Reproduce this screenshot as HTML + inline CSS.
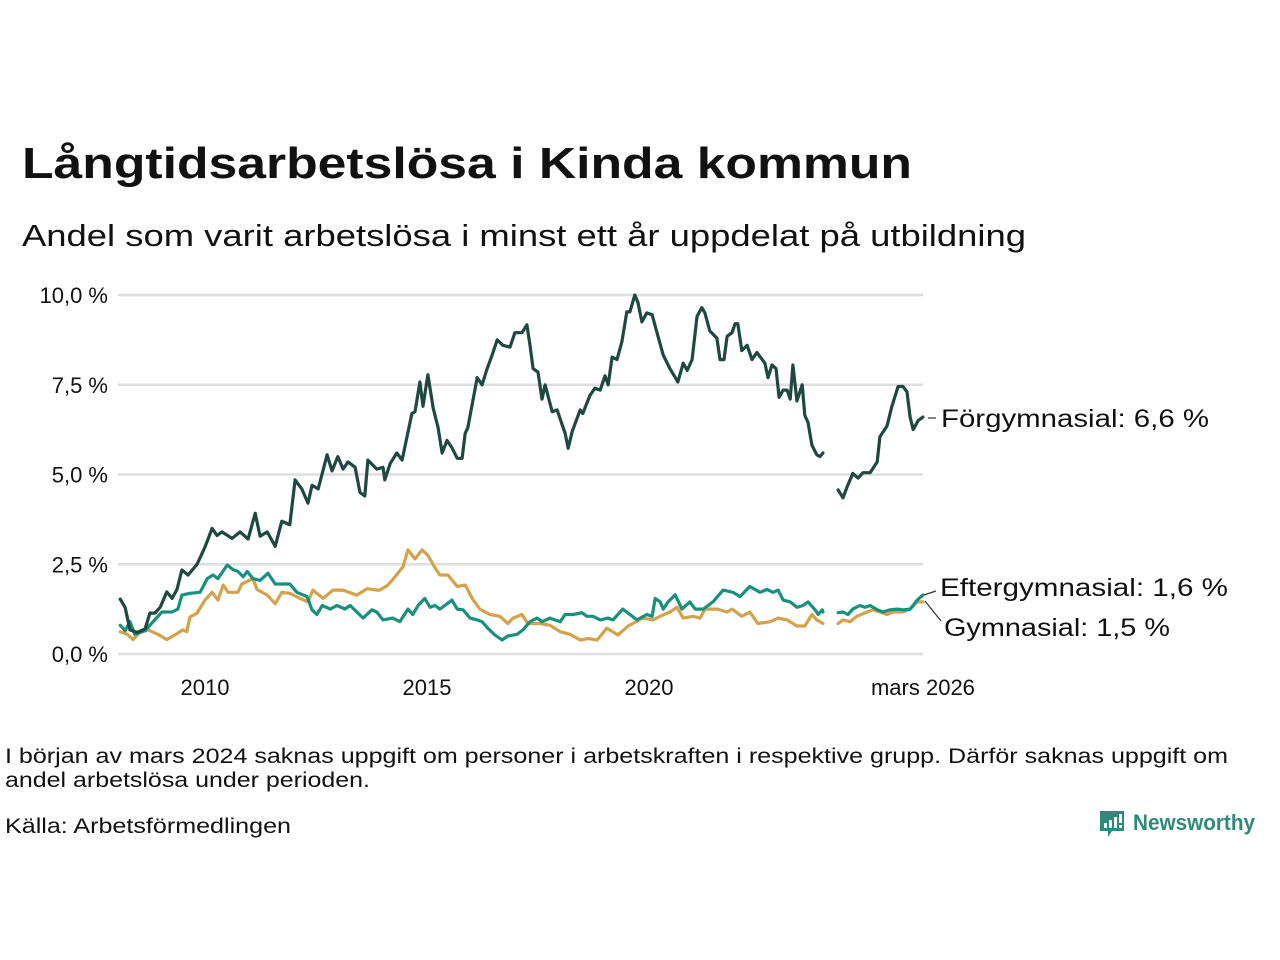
<!DOCTYPE html>
<html><head><meta charset="utf-8"><style>
html,body{margin:0;padding:0;background:#fff;width:1280px;height:960px;overflow:hidden}
svg{display:block;font-family:"Liberation Sans",sans-serif}
</style></head><body>
<svg id="chart" width="1280" height="960" viewBox="0 0 1280 960">
<text x="22" y="178" font-size="44" font-weight="bold" fill="#111" textLength="890" lengthAdjust="spacingAndGlyphs">Långtidsarbetslösa i Kinda kommun</text>
<text x="22" y="246" font-size="31" fill="#111" textLength="1004" lengthAdjust="spacingAndGlyphs">Andel som varit arbetslösa i minst ett år uppdelat på utbildning</text>
<g id="grid"></g>
<g id="yticks"></g>
<g id="xticks"></g>
<g id="lines"></g>
<line x1="928" y1="418" x2="936" y2="418" stroke="#333" stroke-width="1.2"/>
<text x="941" y="427" font-size="25" fill="#111" textLength="268" lengthAdjust="spacingAndGlyphs">Förgymnasial: 6,6 %</text>
<line x1="924" y1="595" x2="936" y2="591" stroke="#333" stroke-width="1.2"/>
<text x="940" y="596" font-size="25" fill="#111" textLength="288" lengthAdjust="spacingAndGlyphs">Eftergymnasial: 1,6 %</text>
<line x1="925" y1="601" x2="941" y2="621" stroke="#333" stroke-width="1.2"/>
<text x="944" y="636" font-size="25" fill="#111" textLength="226" lengthAdjust="spacingAndGlyphs">Gymnasial: 1,5 %</text>
<text x="5" y="763" font-size="21" fill="#111" textLength="1223" lengthAdjust="spacingAndGlyphs">I början av mars 2024 saknas uppgift om personer i arbetskraften i respektive grupp. Därför saknas uppgift om</text>
<text x="5" y="787" font-size="21" fill="#111" textLength="365" lengthAdjust="spacingAndGlyphs">andel arbetslösa under perioden.</text>
<text x="5" y="833" font-size="21" fill="#111" textLength="286" lengthAdjust="spacingAndGlyphs">Källa: Arbetsförmedlingen</text>
<g>
<path d="M1100 811 h24 v20 h-12 l-4 6 v-6 h-8 z" fill="#2e8a7a"/>
<rect x="1104" y="823" width="3" height="5" fill="#fff"/><rect x="1109" y="820" width="3" height="8" fill="#fff"/><rect x="1114" y="817" width="3" height="11" fill="#fff"/><rect x="1119" y="814" width="3" height="9" fill="#fff"/><rect x="1119" y="825" width="3" height="3" fill="#fff"/>
<text x="1133" y="830" font-size="22" font-weight="bold" fill="#2e8a7a" textLength="122" lengthAdjust="spacingAndGlyphs">Newsworthy</text>
</g>
</svg>
<script>
const yTicks=[0,2.5,5,7.5,10];
const yTickLabels=["0,0 %","2,5 %","5,0 %","7,5 %","10,0 %"];
const xTicks=[2010,2015,2020,2026.17];
const xTickLabels=["2010","2015","2020","mars 2026"];
const seriesNames=["Förgymnasial","Eftergymnasial","Gymnasial"];
const forgYears=[2008.09,2008.2,2008.31,2008.47,2008.65,2008.76,2008.87,2008.99,2009.14,2009.26,2009.37,2009.48,2009.62,2009.82,2010.0,2010.16,2010.27,2010.38,2010.61,2010.79,2010.97,2011.13,2011.24,2011.4,2011.58,2011.73,2011.91,2012.03,2012.18,2012.32,2012.41,2012.55,2012.75,2012.86,2012.99,2013.11,2013.22,2013.38,2013.49,2013.6,2013.67,2013.87,2014.01,2014.05,2014.17,2014.32,2014.44,2014.55,2014.66,2014.73,2014.84,2014.91,2015.02,2015.14,2015.25,2015.34,2015.45,2015.56,2015.68,2015.79,2015.86,2015.92,2016.13,2016.24,2016.35,2016.46,2016.58,2016.71,2016.87,2016.98,2017.14,2017.25,2017.32,2017.39,2017.5,2017.59,2017.66,2017.82,2017.93,2018.04,2018.11,2018.18,2018.27,2018.33,2018.45,2018.51,2018.67,2018.78,2018.9,2019.01,2019.08,2019.17,2019.28,2019.39,2019.5,2019.57,2019.68,2019.75,2019.84,2019.95,2020.07,2020.18,2020.32,2020.47,2020.65,2020.77,2020.86,2020.97,2021.08,2021.19,2021.26,2021.37,2021.53,2021.6,2021.69,2021.76,2021.87,2021.94,2022.0,2022.09,2022.21,2022.32,2022.43,2022.55,2022.61,2022.68,2022.77,2022.86,2022.93,2023.02,2023.11,2023.18,2023.24,2023.33,2023.45,2023.51,2023.58,2023.67,2023.78,2023.85,2023.92,2024.1,2024.26,2024.37,2024.46,2024.59,2024.71,2024.82,2024.98,2025.14,2025.2,2025.36,2025.47,2025.61,2025.72,2025.81,2025.88,2025.95,2026.06,2026.17];
const forgValues=[1.53,1.3,0.67,0.6,0.7,1.14,1.14,1.3,1.73,1.55,1.8,2.34,2.2,2.5,2.98,3.5,3.3,3.4,3.22,3.4,3.2,3.92,3.28,3.4,3.0,3.7,3.6,4.85,4.6,4.2,4.7,4.6,5.55,5.1,5.5,5.15,5.35,5.2,4.5,4.4,5.4,5.15,5.2,4.85,5.3,5.6,5.4,6.05,6.7,6.75,7.58,6.9,7.78,6.85,6.3,5.6,5.95,5.75,5.45,5.45,6.15,6.3,7.7,7.5,7.93,8.3,8.75,8.6,8.55,8.95,8.95,9.17,8.6,7.95,7.85,7.1,7.5,6.75,6.8,6.4,6.15,5.73,6.2,6.4,6.8,6.7,7.2,7.4,7.35,7.75,7.5,8.27,8.2,8.7,9.53,9.53,10.0,9.8,9.25,9.5,9.45,8.95,8.33,7.95,7.58,8.1,7.9,8.2,9.4,9.65,9.5,9.0,8.8,8.2,8.2,8.85,8.95,9.2,9.2,8.45,8.6,8.2,8.4,8.2,8.1,7.7,8.05,7.95,7.15,7.35,7.35,7.1,8.05,7.05,7.5,6.65,6.45,5.82,5.55,5.5,5.6,null,4.57,4.35,4.65,5.03,4.9,5.05,5.05,5.35,6.05,6.35,6.9,7.45,7.45,7.3,6.6,6.25,6.5,6.6];
const efterYears=[2008.09,2008.2,2008.31,2008.42,2008.65,2008.83,2009.03,2009.26,2009.39,2009.48,2009.66,2009.89,2010.05,2010.18,2010.29,2010.5,2010.63,2010.74,2010.86,2010.95,2011.08,2011.24,2011.42,2011.58,2011.76,2011.91,2012.07,2012.3,2012.41,2012.52,2012.64,2012.82,2012.97,2013.15,2013.27,2013.42,2013.56,2013.76,2013.87,2014.01,2014.23,2014.39,2014.57,2014.68,2014.8,2014.95,2015.07,2015.18,2015.29,2015.56,2015.68,2015.81,2015.97,2016.13,2016.24,2016.37,2016.53,2016.69,2016.82,2017.03,2017.16,2017.32,2017.48,2017.59,2017.77,2018.0,2018.11,2018.29,2018.49,2018.6,2018.74,2018.9,2019.08,2019.19,2019.41,2019.57,2019.73,2019.95,2020.07,2020.14,2020.25,2020.32,2020.43,2020.59,2020.74,2020.92,2021.04,2021.22,2021.44,2021.67,2021.89,2022.05,2022.27,2022.5,2022.66,2022.79,2022.91,2023.02,2023.18,2023.33,2023.47,2023.58,2023.74,2023.81,2023.9,2023.92,2024.1,2024.26,2024.37,2024.48,2024.59,2024.75,2024.86,2024.98,2025.14,2025.27,2025.43,2025.59,2025.72,2025.88,2026.04,2026.17];
const efterValues=[0.8,0.65,0.9,0.55,0.65,0.9,1.17,1.17,1.25,1.64,1.69,1.72,2.1,2.2,2.1,2.48,2.35,2.3,2.15,2.3,2.1,2.05,2.25,1.95,1.95,1.95,1.72,1.6,1.23,1.1,1.35,1.25,1.35,1.25,1.35,1.17,1.0,1.23,1.17,0.95,1.0,0.9,1.25,1.1,1.35,1.55,1.3,1.35,1.25,1.5,1.25,1.23,1.0,0.95,0.9,0.72,0.53,0.39,0.5,0.55,0.67,0.9,1.0,0.9,1.0,0.9,1.1,1.1,1.15,1.05,1.05,0.95,1.0,0.95,1.25,1.1,0.95,1.1,1.05,1.55,1.45,1.25,1.45,1.65,1.25,1.45,1.25,1.25,1.45,1.78,1.72,1.6,1.88,1.72,1.8,1.72,1.78,1.5,1.45,1.3,1.35,1.45,1.23,1.1,1.23,1.17,null,1.15,1.17,1.1,1.25,1.35,1.3,1.35,1.23,1.17,1.23,1.25,1.23,1.25,1.5,1.64];
const gymYears=[2008.09,2008.25,2008.38,2008.54,2008.72,2008.94,2009.14,2009.32,2009.5,2009.59,2009.66,2009.82,2010.0,2010.16,2010.29,2010.41,2010.52,2010.74,2010.83,2011.08,2011.17,2011.4,2011.58,2011.73,2011.91,2012.14,2012.32,2012.43,2012.66,2012.88,2013.11,2013.42,2013.65,2013.87,2013.94,2014.12,2014.28,2014.46,2014.57,2014.73,2014.89,2015.02,2015.18,2015.29,2015.47,2015.68,2015.86,2016.04,2016.19,2016.42,2016.64,2016.82,2016.94,2017.14,2017.27,2017.55,2017.77,2018.0,2018.22,2018.45,2018.63,2018.83,2019.05,2019.3,2019.53,2019.86,2020.09,2020.25,2020.47,2020.63,2020.77,2020.99,2021.15,2021.26,2021.53,2021.76,2021.87,2022.09,2022.27,2022.45,2022.73,2022.91,2023.11,2023.33,2023.51,2023.67,2023.78,2023.92,2024.1,2024.26,2024.37,2024.53,2024.68,2024.91,2025.05,2025.2,2025.36,2025.5,2025.72,2025.88,2026.04,2026.17];
const gymValues=[0.62,0.55,0.4,0.62,0.67,0.55,0.4,0.53,0.67,0.62,1.03,1.14,1.5,1.72,1.5,1.92,1.72,1.72,1.95,2.1,1.8,1.64,1.4,1.72,1.69,1.55,1.45,1.78,1.55,1.78,1.78,1.64,1.82,1.78,1.78,1.92,2.15,2.43,2.9,2.65,2.9,2.75,2.4,2.2,2.2,1.88,1.92,1.5,1.25,1.1,1.05,0.85,1.0,1.1,0.85,0.85,0.8,0.62,0.55,0.39,0.43,0.39,0.72,0.53,0.78,1.0,0.95,1.05,1.17,1.3,1.0,1.05,1.0,1.25,1.25,1.17,1.25,1.05,1.17,0.85,0.9,1.0,0.95,0.78,0.78,1.1,0.95,0.85,null,0.85,0.95,0.9,1.05,1.17,1.23,1.17,1.1,1.17,1.17,1.25,1.45,1.45];

const NS="http://www.w3.org/2000/svg";
const X0=118,X1=923,YEAR_X=2010,PX_PER_YEAR=44.4,Y0=654,PX_PER_PCT=35.9;
function xs(t){return 205+(t-YEAR_X)*PX_PER_YEAR;}
function ys(v){return Y0-v*PX_PER_PCT;}
function mk(tag,attrs,parent){const e=document.createElementNS(NS,tag);for(const k in attrs)e.setAttribute(k,attrs[k]);parent.appendChild(e);return e;}

const grid=document.getElementById('grid'),yt=document.getElementById('yticks'),xt=document.getElementById('xticks'),lines=document.getElementById('lines');
yTicks.forEach((v,i)=>{
  const l=mk('line',{x1:X0,x2:X1,y1:ys(v),y2:ys(v),stroke:'#dedede','stroke-width':2.5},grid);
  
  
  const t=mk('text',{x:108,y:ys(v)+8,'font-size':22,'text-anchor':'end',fill:'#111'},yt);
  t.textContent=yTickLabels[i];
  
  
});
xTicks.forEach((v,i)=>{
  const t=mk('text',{x:xs(v)+(i===3?0:0),y:695,'font-size':22,'text-anchor':'middle',fill:'#111'},xt);
  t.textContent=xTickLabels[i];
  
  
});
function drawSeries(years,vals,color,name){
  let d='',pen=false;
  for(let i=0;i<years.length;i++){
    if(vals[i]===null){pen=false;continue;}
    d+=(pen?'L':'M')+xs(years[i]).toFixed(1)+' '+ys(vals[i]).toFixed(1)+' ';
    pen=true;
  }
  const p=mk('path',{d:d,fill:'none',stroke:color,'stroke-width':3.2,'stroke-linejoin':'round','stroke-linecap':'round'},lines);
  
  
}
drawSeries(gymYears,gymValues,'#d3a24a','line-gymnasial');
drawSeries(efterYears,efterValues,'#17917e','line-eftergymnasial');
drawSeries(forgYears,forgValues,'#1e4840','line-forgymnasial');
</script>
</body></html>
